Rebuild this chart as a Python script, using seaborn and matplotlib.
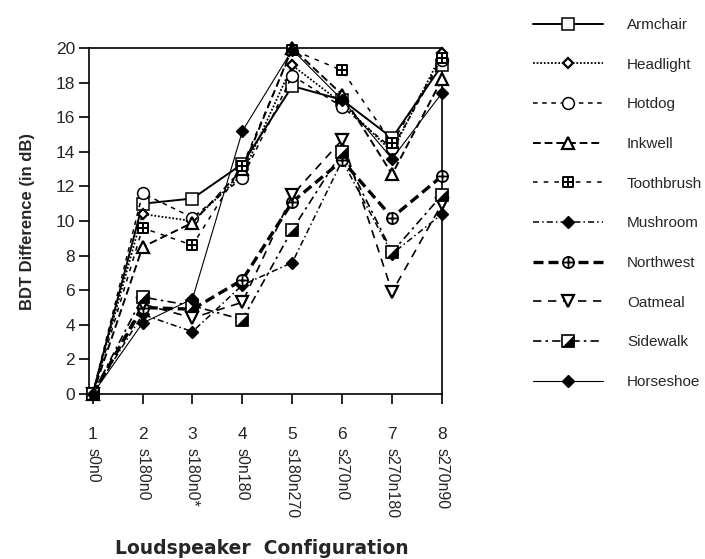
import numpy as np
import pandas as pd
import matplotlib
matplotlib.use("Agg")
import matplotlib.pyplot as plt
from matplotlib.path import Path
from matplotlib.transforms import blended_transform_factory
import seaborn as sns

# ---- data ----
config_nums = [1, 2, 3, 4, 5, 6, 7, 8]
config_tick_labels = ["1", "2", "3", "4", "5", "6", "7", "8"]
config_names = ["s0n0", "s180n0", "s180n0*", "s0n180", "s180n270", "s270n0", "s270n180", "s270n90"]

armchair   = [0, 11.0, 11.3, 13.3, 17.8, 17.0, 14.8, 19.0]
headlight  = [0, 10.4, 10.0, 12.7, 19.0, 16.8, 14.0, 19.7]
hotdog     = [0, 11.6, 10.2, 12.5, 18.4, 16.6, 14.2, 19.3]
inkwell    = [0, 8.5, 9.9, 13.0, 20.0, 17.3, 12.7, 18.2]
toothbrush = [0, 9.6, 8.6, 13.2, 19.9, 18.7, 14.5, 19.4]
mushroom   = [0, 4.6, 3.6, 6.3, 7.6, 13.5, 8.1, 10.4]
northwest  = [0, 5.0, 4.9, 6.6, 11.1, 13.5, 10.2, 12.6]
oatmeal    = [0, 5.2, 4.4, 5.3, 11.5, 14.7, 5.9, 11.0]
sidewalk   = [0, 5.6, 5.1, 4.3, 9.5, 14.0, 8.2, 11.5]
horseshoe  = [0, 4.1, 5.5, 15.2, 19.9, 17.0, 13.6, 17.4]

series_names = ["Armchair", "Headlight", "Hotdog", "Inkwell", "Toothbrush",
                "Mushroom", "Northwest", "Oatmeal", "Sidewalk", "Horseshoe"]
series_values = [armchair, headlight, hotdog, inkwell, toothbrush,
                 mushroom, northwest, oatmeal, sidewalk, horseshoe]

y_ticks = [0, 2, 4, 6, 8, 10, 12, 14, 16, 18, 20]

# ---- custom markers ----
sq = [(-1, -1), (1, -1), (1, 1), (-1, 1), (-1, -1)]
sq_cross = Path(sq + [(0, -1), (0, 1), (-1, 0), (1, 0)],
                [Path.MOVETO, Path.LINETO, Path.LINETO, Path.LINETO, Path.CLOSEPOLY,
                 Path.MOVETO, Path.LINETO, Path.MOVETO, Path.LINETO])
cross = Path([(0, -1), (0, 1), (-1, 0), (1, 0)],
             [Path.MOVETO, Path.LINETO, Path.MOVETO, Path.LINETO])
circ_cross = Path.make_compound_path(Path.unit_circle(), cross)
half_tri = Path([(1, -1), (1, 1), (-1, -1), (1, -1)],
                [Path.MOVETO, Path.LINETO, Path.LINETO, Path.CLOSEPOLY])

styles = {
    "Armchair":   dict(ls="-", lw=1.4, marker="s", ms=8.5, mfc="white", mew=1.1),
    "Headlight":  dict(ls=(0, (1, 1)), lw=1.3, marker="D", ms=5.5, mfc="white", mew=1.6),
    "Hotdog":     dict(ls=(0, (3, 3)), lw=1.1, marker="o", ms=8.5, mfc="white", mew=1.1),
    "Inkwell":    dict(ls=(0, (4, 2)), lw=1.4, marker="^", ms=8, mfc="white", mew=1.6),
    "Toothbrush": dict(ls=(0, (3, 4)), lw=1.1, marker=sq_cross, ms=7.5, mfc="white", mew=1.4),
    "Mushroom":   dict(ls=(0, (4, 2, 1, 2)), lw=1.1, marker="D", ms=6.5, mfc="black", mew=1.0),
    "Northwest":  dict(ls=(0, (3, 1.5)), lw=2.4, marker=circ_cross, ms=8, mfc="white", mew=1.3),
    "Oatmeal":    dict(ls=(0, (5, 4)), lw=1.2, marker="v", ms=8, mfc="white", mew=1.6),
    "Sidewalk":   dict(ls=(0, (5, 2.5, 1.5, 2.5)), lw=1.2, marker="s", ms=8, mfc="white", mew=1.2),
    "Horseshoe":  dict(ls="-", lw=0.8, marker="D", ms=6, mfc="black", mew=1.0),
}

sns.set_style("white")
plt.rcParams["font.family"] = ["Liberation Sans", "DejaVu Sans"]

fig = plt.figure(figsize=(7.05, 5.59), dpi=100)
ax = fig.add_axes([89 / 705, 1 - 394 / 559, (442 - 89) / 705, (394 - 48) / 559])

legend_handles = []
for i, (name, vals) in enumerate(zip(series_names, series_values)):
    st = styles[name]
    df = pd.DataFrame({"config": config_nums, "bdt": vals})
    n_before = len(ax.lines)
    sns.lineplot(data=df, x="config", y="bdt", ax=ax, color="black",
                 linestyle=st["ls"], linewidth=st["lw"], marker=st["marker"],
                 markersize=st["ms"], markerfacecolor=st["mfc"], markeredgecolor="black",
                 markeredgewidth=st["mew"], clip_on=False, zorder=3 + i * 0.1,
                 legend=False)
    line = ax.lines[n_before]
    if name == "Sidewalk":
        sns.lineplot(data=df, x="config", y="bdt", ax=ax, color="black",
                     linestyle="none", marker=half_tri, markersize=st["ms"],
                     markerfacecolor="black", markeredgecolor="black",
                     markeredgewidth=0.5, clip_on=False, zorder=3.05 + i * 0.1,
                     legend=False)
        over = ax.lines[-1]
        legend_handles.append((line, over))
    else:
        legend_handles.append(line)

ax.set_xlim(0.926, 8.0)
ax.set_ylim(0, 20)
ax.set_yticks(y_ticks)
ax.set_yticklabels([str(v) for v in y_ticks])
ax.set_xticks(config_nums)
ax.set_xticklabels(config_tick_labels)
for sp in ax.spines.values():
    sp.set_visible(True)
    sp.set_color("black")
    sp.set_linewidth(1.2)
ax.tick_params(axis="both", which="both", direction="out", length=7, width=1.2,
               color="black", labelsize=12.5, left=True, bottom=True, right=False, top=False)
ax.tick_params(axis="y", pad=3)
ax.tick_params(axis="x", pad=17)
ax.set_xlabel("")
ax.set_ylabel("")

trans = blended_transform_factory(ax.transData, ax.transAxes)
for xv, nm in zip(config_nums, config_names):
    ax.text(xv, (394 - 448) / 346, nm, rotation=-90, ha="center", va="top",
            fontsize=11.5, transform=trans)

fig.text(28 / 705, 1 - 221 / 559, "BDT Difference (in dB)", rotation=90,
         ha="center", va="center", fontsize=12, fontweight="bold")
fig.text(262 / 705, 1 - 549 / 559, "Loudspeaker  Configuration",
         ha="center", va="center", fontsize=13.5, fontweight="bold",
         family=["DejaVu Sans"])

leg = fig.legend(legend_handles, series_names, loc="upper left",
                 bbox_to_anchor=(533 / 705, 1 - 18 / 559), frameon=False,
                 fontsize=11, handlelength=4.6, handletextpad=1.55,
                 labelspacing=1.68, borderpad=0, borderaxespad=0, numpoints=1)

fig.savefig("out.png", dpi=100)
